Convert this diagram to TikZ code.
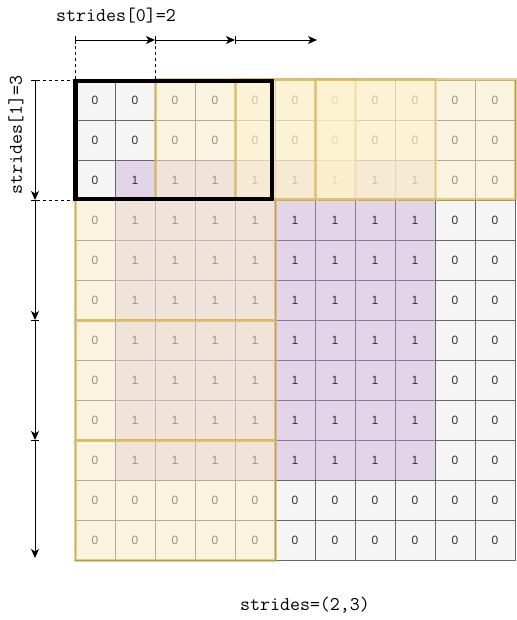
\documentclass[tikz,border=0pt]{standalone}
\usepackage{fontspec}
\setmainfont{Liberation Sans}
\usetikzlibrary{arrows.meta}

\definecolor{gridfill}{HTML}{F5F5F5}
\definecolor{gridline}{HTML}{666666}
\definecolor{onefill}{HTML}{E1D5E7}
\definecolor{oneline}{HTML}{9673A6}
\definecolor{winfill}{HTML}{FFF2CC}
\definecolor{winline}{HTML}{D6B656}
\definecolor{digit}{HTML}{333333}

\begin{document}
\begin{tikzpicture}[
		x=1pt, y=-1pt,
		zerocell/.style={draw=gridline, fill=gridfill, line width=0.8pt,
			minimum size=40pt, inner sep=0pt, outer sep=0pt, anchor=north west,
			text=digit, font=\fontsize{12}{12}\selectfont},
		onecell/.style={zerocell, draw=oneline, fill=onefill},
		window/.style={draw=winline, draw opacity=0.65, line width=3pt,
			fill=winfill, fill opacity=0.5},
		firstwin/.style={draw=black, line width=4.5pt},
		stride/.style={line width=0.8pt,
			{Bar[width=8pt]}-{Stealth[length=9pt,width=8pt,inset=2.5pt]}},
		guide/.style={line width=0.8pt, dash pattern=on 3pt off 3pt},
		strideText/.style={font=\ttfamily\fontsize{19.4}{19.4}\selectfont}
		]
		\useasboundingbox (0,0) rectangle (516,620);
		
		% =========================
		% Input grid (ones first, zeros on top)
		% =========================
		\foreach \pass in {1,0}
		\foreach \r in {0,...,11}
		\foreach \c in {0,...,10}
		{
			\pgfmathtruncatemacro\v{(\r>1)*(\r<10)*(\c>0)*(\c<9)}
			\ifnum\v=\pass
			\ifnum\v=1
			\node[onecell] (c\r-\c) at (75+40*\c,80+40*\r) {1};
			\else
			\node[zerocell] (c\r-\c) at (75+40*\c,80+40*\r) {0};
			\fi
			\fi
		}
		
		% --------------------------------
		% Sliding windows, stride 2 along x
		% --------------------------------
		\foreach \c/\e in {2/6,4/8,6/10}
		{
			\draw[window] (c0-\c.north west) rectangle (c2-\e.south east);
		}
		
		% --------------------------------
		% Sliding windows, stride 3 along y
		% --------------------------------
		\foreach \r/\e in {3/5,6/8,9/11}
		{
			\draw[window] (c\r-0.north west) rectangle (c\e-4.south east);
		}
		
		% --------------------------------
		% First window, drawn last
		% --------------------------------
		\draw[firstwin]
		([xshift=0.5pt,yshift=-1pt]c0-0.north west) rectangle
		([xshift=-3pt,yshift=1pt]c2-4.south east);
		
		% --------------------------------
		% Stride arrows
		% --------------------------------
		\coordinate (h0) at (75,40);
		\coordinate (h1) at (155,40);
		\coordinate (h2) at (235,40);
		\coordinate (h3) at (317,40);
		\draw[stride] (h0) -- (h1);
		\draw[stride] (h1) -- (h2);
		\draw[stride] (h2) -- (h3);
		
		\coordinate (v0) at (35,80);
		\coordinate (v1) at (35,200);
		\coordinate (v2) at (35,320);
		\coordinate (v3) at (35,440);
		\coordinate (v4) at (35,558);
		\draw[stride] (v0) -- (v1);
		\draw[stride] (v1) -- (v2);
		\draw[stride] (v2) -- (v3);
		\draw[stride] (v3) -- (v4);
		
		\draw[guide] (h0) -- (c0-0.north west);
		\draw[guide] (h1) -- (c0-2.north west);
		\draw[guide] ([xshift=-4pt]v0) -- (c0-0.north west);
		\draw[guide] ([xshift=-4pt]v1) -- (c3-0.north west);
		
		% --------------------------------
		% Labels
		% --------------------------------
		\node[strideText] (sx) at (116,15.5) {strides[0]=2};
		\node[strideText, rotate=90] (sy) at (16,135) {strides[1]=3};
		\node[strideText] (sxy) at (305,605) {strides=(2,3)};
		
	\end{tikzpicture}
\end{document}
